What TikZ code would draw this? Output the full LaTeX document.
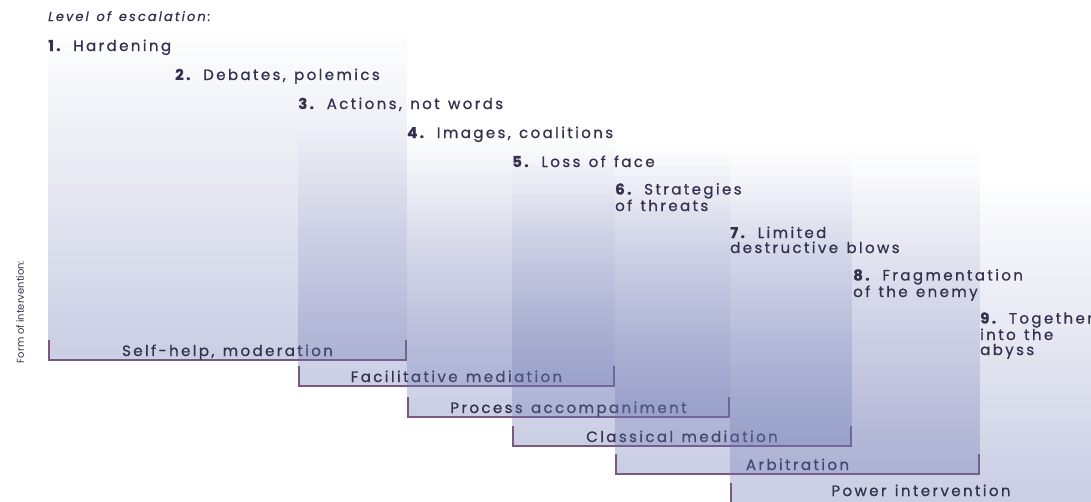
\documentclass[tikz,border=0pt]{standalone}
\usepackage{fontspec}
\setmainfont{Poppins}
\newfontfamily\labfont[LetterSpace=16,WordSpace=1.3,FakeBold=0.8]{Poppins}
\usetikzlibrary{positioning}

\definecolor{colfill}{RGB}{108,118,178}
\definecolor{brkline}{RGB}{122,88,128}
\definecolor{labtext}{RGB}{50,50,78}

\tikzset{
  levtext/.style={anchor=base west, align=left, inner sep=0pt, text=labtext,
    font=\labfont\fontsize{15}{15}\selectfont},
  formtext/.style={anchor=base, inner sep=0pt, text=labtext,
    font=\labfont\fontsize{15}{15}\selectfont},
  bracket/.style={draw=brkline, line width=1.3pt},
}

\begin{document}
\begin{tikzpicture}[x=1pt,y=-1pt]
  \useasboundingbox (0,0) rectangle (1091,501);

  \foreach \l/\r/\t/\b/\txt [count=\i] in {
      48/407/30/360/{Self-help, moderation},
      298/615/125/386/{Facilitative mediation},
      407/730/148/417/{Process accompaniment},
      512/852/155/446/{Classical mediation},
      615/980/143/474/{Arbitration},
      730/1112/180/503/{Power intervention}}{
    \foreach \k in {0,...,29}{
      \pgfmathsetmacro\op{0.36*(\k+0.5)/30}
      \fill[colfill, fill opacity=\op]
        (\l,{\t+(\b-\t)*\k/30}) rectangle (\r,{\t+(\b-\t)*(\k+1)/30});
    }
    \draw[bracket] (\l+1,\b-20) -- (\l+1,\b) -- (\r-1,\b) -- (\r-1,\b-20);
    \node[formtext] (form\i) at ({(\l+\r)/2},{min(\b-4,496)}) {\txt};
  }

  \node[anchor=base west, inner sep=0pt, text=labtext,
    font=\labfont\fontsize{13}{13}\selectfont\itshape] (head) at (48,21) {Level of escalation:};
  \node[rotate=90, inner sep=0pt, text=labtext,
    font=\fontsize{10}{10}\selectfont] (formhead) at (20,312) {Form of intervention:};

  \node[levtext] (lev1) at (48,51) {\textbf{1.} Hardening};
  \node[levtext] (lev2) at (175,80) {\textbf{2.} Debates, polemics};
  \node[levtext] (lev3) at (298,109) {\textbf{3.} Actions, not words};
  \node[levtext] (lev4) at (407,138) {\textbf{4.} Images, coalitions};
  \node[levtext] (lev5) at (512,167) {\textbf{5.} Loss of face};
  \node[levtext] (lev6) at (615,211) {\textbf{6.} Strategies\\of threats};
  \node[levtext] (lev7) at (730,253) {\textbf{7.} Limited\\destructive blows};
  \node[levtext] (lev8) at (853,297) {\textbf{8.} Fragmentation\\of the enemy};
  \node[levtext] (lev9) at (980,355) {\textbf{9.} Together\\into the\\abyss};
\end{tikzpicture}
\end{document}
